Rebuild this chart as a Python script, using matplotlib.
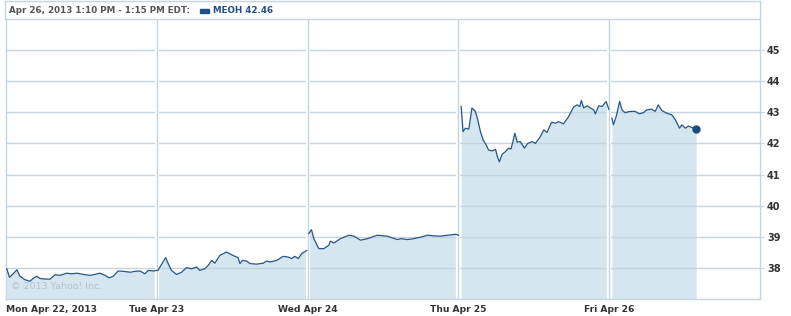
import matplotlib
matplotlib.use("Agg")
import matplotlib.pyplot as plt
from matplotlib.lines import Line2D
from matplotlib.patches import Rectangle

# ---- data (minutes since 9:30 open, price) ----
day_labels = ["Mon Apr 22, 2013", "Tue Apr 23", "Wed Apr 24", "Thu Apr 25", "Fri Apr 26"]
y_ticks = [38, 39, 40, 41, 42, 43, 44, 45]

mon_min = [2, 9, 19, 28, 36, 49, 62, 70, 79, 88, 101, 114, 127, 140, 157, 170, 183, 200,
           217, 230, 243, 256, 267, 277, 290, 303, 321, 334, 347, 359, 368, 381, 390]
mon_px = [37.97, 37.70, 37.81, 37.94, 37.73, 37.62, 37.57, 37.66, 37.73, 37.66, 37.64, 37.64,
          37.78, 37.76, 37.83, 37.81, 37.83, 37.79, 37.76, 37.79, 37.83, 37.76, 37.68, 37.73,
          37.90, 37.89, 37.86, 37.89, 37.90, 37.81, 37.92, 37.90, 37.92]

tue_min = [3, 16, 23, 29, 38, 51, 64, 77, 90, 103, 111, 124, 133, 142, 150, 163, 180, 197,
           210, 215, 222, 232, 241, 258, 275, 284, 293, 310, 327, 340, 349, 357, 366, 375, 388]
tue_px = [37.92, 38.19, 38.33, 38.15, 37.92, 37.79, 37.86, 38.01, 37.97, 38.03, 37.92, 37.97,
          38.08, 38.24, 38.15, 38.40, 38.51, 38.40, 38.33, 38.14, 38.24, 38.22, 38.14, 38.12,
          38.15, 38.22, 38.19, 38.24, 38.37, 38.35, 38.30, 38.37, 38.30, 38.46, 38.56]

wed_min = [3, 10, 16, 29, 42, 55, 59, 68, 85, 107, 120, 137, 155, 180, 206, 232, 241, 258,
           275, 293, 310, 327, 344, 362, 383, 390]
wed_px = [39.10, 39.23, 38.94, 38.62, 38.62, 38.73, 38.86, 38.80, 38.94, 39.05, 39.02, 38.89,
          38.94, 39.05, 39.02, 38.91, 38.94, 38.91, 38.94, 38.99, 39.05, 39.03, 39.02, 39.05,
          39.08, 39.05]

thu_min = [7, 12, 18, 27, 35, 44, 50, 57, 64, 72, 78, 87, 96, 101, 106, 113, 122, 130, 136,
           141, 146, 152, 160, 171, 179, 191, 199, 212, 221, 229, 241, 251, 259, 272, 285, 298,
           307, 314, 318, 324, 333, 341, 350, 354, 363, 372, 382, 389]
thu_px = [43.19, 42.38, 42.49, 42.46, 43.14, 43.03, 42.76, 42.38, 42.11, 41.95, 41.79, 41.76,
          41.81, 41.57, 41.41, 41.65, 41.74, 41.85, 41.82, 42.06, 42.33, 42.04, 42.06, 41.85,
          42.00, 42.06, 42.00, 42.22, 42.44, 42.35, 42.68, 42.65, 42.70, 42.63, 42.86, 43.17,
          43.24, 43.19, 43.38, 43.14, 43.21, 43.14, 43.08, 42.95, 43.21, 43.19, 43.35, 43.10]

fri_min = [7, 11, 18, 27, 33, 41, 54, 67, 78, 89, 97, 110, 119, 127, 136, 149, 162, 171, 182,
           188, 197, 205, 214, 225]
fri_px = [42.81, 42.60, 42.86, 43.35, 43.08, 42.99, 43.03, 43.03, 42.95, 42.99, 43.08, 43.10,
          43.03, 43.24, 43.06, 42.97, 42.92, 42.76, 42.49, 42.60, 42.49, 42.56, 42.51, 42.46]

days_min = [mon_min, tue_min, wed_min, thu_min, fri_min]
days_px = [mon_px, tue_px, wed_px, thu_px, fri_px]
session_minutes = 390

header_text = "Apr 26, 2013 1:10 PM - 1:15 PM EDT:"
legend_text = "MEOH 42.46"
copyright_text = "\u00a9 2013 Yahoo! Inc."

# ---- style ----
LINE = "#245588"
FILL = "#d6e6f1"
GRID = "#c5d5e0"
TXT = "#333333"

W, H = 791, 316
fig = plt.figure(figsize=(W / 100, H / 100), dpi=100)
ax = fig.add_axes([6 / W, (H - 299) / H, (760 - 6) / W, (299 - 19) / H])

for i, (mins, px) in enumerate(zip(days_min, days_px)):
    xs = [i + m / session_minutes for m in mins]
    ax.fill_between(xs, px, 37, color=FILL, lw=0, zorder=1)
    ax.plot(xs, px, color=LINE, lw=0.9, zorder=3)

# last point dot
last_x = 4 + fri_min[-1] / session_minutes
ax.plot([last_x], [fri_px[-1]], "o", color="#1b4c80", ms=5, zorder=4)

ax.set_xlim(0, 5)
ax.set_ylim(37, 46)
ax.set_yticks(y_ticks)
ax.set_xticks([0, 1, 2, 3, 4])
ax.set_xticklabels(day_labels)
ax.yaxis.tick_right()

# gridlines
for yv in y_ticks:
    ax.axhline(yv, color=GRID, lw=1, zorder=2)
for xv in [1, 2, 3, 4]:
    ax.axvline(xv, color="white", lw=3, zorder=2)
    ax.axvline(xv, color=GRID, lw=1, zorder=2.5)

for s in ax.spines.values():
    s.set_color(GRID)
    s.set_linewidth(1)

ax.tick_params(axis="y", length=3, color=GRID, pad=2, labelsize=7, labelcolor=TXT)
ax.tick_params(axis="x", length=0, pad=4, labelsize=6.6, labelcolor=TXT)
for lab in ax.get_yticklabels() + ax.get_xticklabels():
    lab.set_fontweight("bold")
    lab.set_fontfamily("DejaVu Sans")
xl = ax.get_xticklabels()
xl[0].set_horizontalalignment("left")

ax.text(0.006, 0.03, copyright_text, transform=ax.transAxes, fontsize=6.8,
        color="#b3c2ce", ha="left", va="bottom", zorder=5)

# header box
fig.add_artist(Line2D([5 / W, 760 / W], [(H - 1) / H, (H - 1) / H], color=GRID, lw=1))
fig.add_artist(Line2D([5 / W, 5 / W], [(H - 1) / H, (H - 19) / H], color=GRID, lw=1))
fig.add_artist(Line2D([760 / W, 760 / W], [(H - 1) / H, (H - 19) / H], color=GRID, lw=1))

fig.text(9 / W, (H - 10.5) / H, header_text, fontsize=6.3, fontweight="bold",
         color="#555555", ha="left", va="center", family="DejaVu Sans")
fig.add_artist(Rectangle((200 / W, (H - 12.5) / H), 9 / W, 3.5 / H,
                         color="#1f4f86", transform=fig.transFigure))
fig.text(213 / W, (H - 10.5) / H, legend_text, fontsize=6.3, fontweight="bold",
         color="#1f4f86", ha="left", va="center", family="DejaVu Sans")

fig.savefig("out.png", dpi=100)
